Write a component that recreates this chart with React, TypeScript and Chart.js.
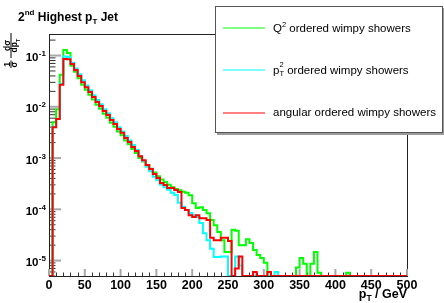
import React, { useEffect, useRef } from 'react';
import { Chart, registerables } from 'chart.js';

Chart.register(...registerables);

// ---- data (5 GeV bins from 0 to 500 GeV) ----
const BIN_WIDTH = 5;
const X_MIN = 0;
const X_MAX = 500;
const Y_MIN = 5e-6;
const Y_MAX = 0.263;

const xTickLabels = ['0', '50', '100', '150', '200', '250', '300', '350', '400', '450', '500'];
const yTickExponents = [-1, -2, -3, -4, -5];

const seriesNames = ['Q2 ordered wimpy showers', 'pT2 ordered wimpy showers', 'angular ordered wimpy showers'];

const q2Values = [
  0, 0.0050, 0.0090, 0.042, 0.128, 0.112, 0.063, 0.048, 0.036, 0.027,
  0.0215, 0.0172, 0.0138, 0.0110, 0.0092, 0.0073, 0.0061, 0.0049, 0.0041, 0.0033,
  0.0028, 0.0022, 0.00185, 0.00150, 0.00125, 0.00100, 0.00086, 0.00072, 0.00062, 0.00052,
  0.00044, 0.00038, 0.00034, 0.00030, 0.00027, 0.00025, 0.000235, 0.00022, 0.00021, 0.000188,
  0.000132, 0.000106, 0.00011, 0.000097, 0.000084, 0.000062, 0.000049, 0.000036, 0.000025, 0.0000147,
  0.0000147, 0.000040, 0.000038, 0.000020, 0.000020, 0.000026, 0.000022, 0.000016, 0.0000128, 0.0000112,
  0.0000091, 0, 0, 0, 0, 0, 0, 0, 0, 0.0000073,
  0.0000112, 0.0000087, 0, 0.0000087, 0.0000147, 0.0000058, 0, 0, 0, 0,
  0, 0, 0, 0.0000058, 0, 0, 0, 0, 0, 0,
  0, 0, 0, 0, 0, 0, 0, 0, 0, 0,
];

const pt2Values = [
  0, 0.0041, 0.0058, 0.028, 0.096, 0.094, 0.072, 0.056, 0.043, 0.033,
  0.026, 0.021, 0.0168, 0.0135, 0.0112, 0.0090, 0.0075, 0.0060, 0.0050, 0.0040,
  0.0033, 0.0027, 0.0022, 0.0018, 0.00145, 0.00108, 0.00088, 0.00068, 0.00055, 0.00043,
  0.00037, 0.00030, 0.00027, 0.00024, 0.00021, 0.00019, 0.000135, 0.000112, 0.000097, 0.000085,
  0.000077, 0.000071, 0.000054, 0.000034, 0.000025, 0.000017, 0.0000118, 0.0000118, 0.000012, 0.000012,
  0, 0, 0.000012, 0.000008, 0, 0, 0, 0, 0, 0,
  0, 0, 0, 0.000006, 0, 0, 0, 0, 0, 0,
  0, 0, 0, 0, 0, 0, 0, 0, 0, 0,
  0, 0, 0, 0, 0, 0, 0, 0, 0, 0,
  0, 0, 0, 0, 0, 0, 0, 0, 0, 0,
];

const angularValues = [
  0, 0.0040, 0.0058, 0.027, 0.086, 0.085, 0.068, 0.052, 0.040, 0.030,
  0.024, 0.0194, 0.0155, 0.0124, 0.0104, 0.0083, 0.0069, 0.0055, 0.0046, 0.0037,
  0.0031, 0.00245, 0.00205, 0.00164, 0.00137, 0.00109, 0.00091, 0.00073, 0.00061, 0.00049,
  0.00041, 0.000325, 0.000297, 0.00026, 0.00026, 0.000238, 0.000217, 0.000106, 0.000097, 0.000077,
  0.000071, 0.000077, 0.000067, 0.000067, 0.000062, 0.000028, 0.000025, 0.000025, 0.000028, 0.000028,
  0.000024, 0, 0.000007, 0.000012, 0, 0, 0, 0.000006, 0, 0,
  0, 0.000006, 0, 0, 0, 0, 0, 0, 0, 0,
  0, 0, 0, 0, 0, 0, 0, 0, 0, 0,
  0, 0, 0, 0, 0, 0, 0, 0, 0, 0,
  0, 0, 0, 0, 0, 0, 0, 0, 0, 0,
];

const seriesColors = ['#00ff00', '#00ffff', '#ff0000'];

// ---- helpers ----
const FONT = '"Liberation Sans", Arial, Helvetica, sans-serif';

function histPoints(vals: number[]) {
  const pts = vals.map((v, i) => ({ x: X_MIN + i * BIN_WIDTH, y: Math.max(v, Y_MIN) }));
  pts.push({ x: X_MAX, y: Math.max(vals[vals.length - 1], Y_MIN) });
  return pts;
}

type Run = { t: string; f: string; dy: number };
function drawRuns(ctx: CanvasRenderingContext2D, x: number, y: number, runs: Run[]) {
  let cx = x;
  for (const r of runs) {
    ctx.font = r.f;
    ctx.fillText(r.t, cx, y + r.dy);
    cx += ctx.measureText(r.t).width;
  }
  return cx;
}

const rootPlugin = {
  id: 'rootStyle',
  beforeDraw(chart: any) {
    const { ctx, width, height } = chart;
    ctx.save();
    ctx.fillStyle = '#ffffff';
    ctx.fillRect(0, 0, width, height);
    ctx.restore();
  },
  beforeDatasetsDraw(chart: any) {
    const { ctx, chartArea: a, scales } = chart;
    const xs = scales.x;
    const ys = scales.y;
    ctx.save();
    // frame
    ctx.strokeStyle = '#222';
    ctx.lineWidth = 1;
    ctx.strokeRect(a.left + 0.5, a.top + 0.5, a.right - a.left, a.bottom - a.top);

    // y ticks (log)
    for (let e = -6; e <= 0; e++) {
      for (let m = 1; m <= 9; m++) {
        const v = m * Math.pow(10, e);
        if (v < Y_MIN * 0.999 || v > Y_MAX) continue;
        const py = ys.getPixelForValue(v);
        ctx.beginPath();
        if (m === 1) {
          ctx.strokeStyle = '#a8a8a8';
          ctx.lineWidth = 2;
          ctx.moveTo(a.left + 1, py);
          ctx.lineTo(a.left + 12, py);
        } else {
          ctx.strokeStyle = '#333';
          ctx.lineWidth = 1;
          ctx.moveTo(a.left + 1, py);
          ctx.lineTo(a.left + 6.5, py);
        }
        ctx.stroke();
      }
    }
    // x ticks
    for (let g = X_MIN; g <= X_MAX; g += 10) {
      const px = xs.getPixelForValue(g);
      ctx.beginPath();
      if (g % 50 === 0) {
        ctx.strokeStyle = '#a8a8a8';
        ctx.lineWidth = 2;
        ctx.moveTo(px, a.bottom);
        ctx.lineTo(px, a.bottom - 7);
      } else {
        ctx.strokeStyle = '#333';
        ctx.lineWidth = 1;
        ctx.moveTo(Math.round(px) + 0.5, a.bottom);
        ctx.lineTo(Math.round(px) + 0.5, a.bottom - 3.5);
      }
      ctx.stroke();
    }
    ctx.restore();
  },
  afterDraw(chart: any) {
    const { ctx, chartArea: a, scales } = chart;
    const xs = scales.x;
    const ys = scales.y;
    ctx.save();
    ctx.fillStyle = '#000';
    ctx.textBaseline = 'alphabetic';

    // x tick labels
    ctx.font = `bold 12.5px ${FONT}`;
    ctx.textAlign = 'center';
    xTickLabels.forEach((lab) => {
      const px = xs.getPixelForValue(Number(lab));
      ctx.fillText(lab, px, 288.5);
    });

    // y tick labels 10^n
    yTickExponents.forEach((e) => {
      const py = ys.getPixelForValue(Math.pow(10, e));
      ctx.textAlign = 'right';
      ctx.font = `bold 11.5px ${FONT}`;
      ctx.fillText('10', 38.5, py + 5.5);
      ctx.textAlign = 'left';
      ctx.font = `bold 8px ${FONT}`;
      ctx.fillText(String(e).replace('-', '-'), 38.8, py + 0.5);
    });

    // x axis title (right aligned at frame right)
    ctx.textAlign = 'left';
    const bigB = `bold 12.5px ${FONT}`;
    const smB = `bold 8.5px ${FONT}`;
    const xRuns: Run[] = [
      { t: 'p', f: bigB, dy: 0 },
      { t: 'T', f: smB, dy: 3 },
      { t: ' / GeV', f: bigB, dy: 0 },
    ];
    let w = 0;
    xRuns.forEach((r) => { ctx.font = r.f; w += ctx.measureText(r.t).width; });
    drawRuns(ctx, a.right - w, 298, xRuns);

    // title
    const tB = `bold 12px ${FONT}`;
    const tS = `bold 8px ${FONT}`;
    drawRuns(ctx, 18, 20.5, [
      { t: '2', f: tB, dy: 0 },
      { t: 'nd', f: tS, dy: -6 },
      { t: ' Highest p', f: tB, dy: 0 },
      { t: 'T', f: tS, dy: 3.5 },
      { t: ' Jet', f: tB, dy: 0 },
    ]);

    // y axis title: (1/sigma) (d sigma / d pT), rotated
    ctx.save();
    ctx.translate(11, 68);
    ctx.rotate(-Math.PI / 2);
    const yf = `bold 8.5px ${FONT}`;
    const yfs = `bold 6px ${FONT}`;
    ctx.font = yf;
    ctx.textAlign = 'center';
    ctx.fillText('1', 3.5, -1.3);
    ctx.fillText('σ', 3.5, 6.2);
    ctx.fillRect(0, -0.5, 7.5, 1);
    ctx.fillRect(10, -0.5, 25, 1);
    ctx.fillText('dσ', 22.5, -1.3);
    ctx.textAlign = 'left';
    ctx.font = yf;
    const dW = ctx.measureText('dp').width;
    ctx.font = yfs;
    const tW = ctx.measureText('T').width;
    drawRuns(ctx, 22.5 - (dW + tW) / 2, 6.2, [
      { t: 'dp', f: yf, dy: 0 },
      { t: 'T', f: yfs, dy: 2.5 },
    ]);
    ctx.restore();

    // legend box with shadow
    const lx = 215.5, ly = 6.5, lw = 227, lh = 126;
    ctx.fillStyle = '#9a9a9a';
    ctx.fillRect(lx + 1.5, ly + 1.5, lw + 1, lh + 1);
    ctx.fillStyle = '#ffffff';
    ctx.fillRect(lx, ly, lw, lh);
    ctx.strokeStyle = '#555';
    ctx.lineWidth = 1;
    ctx.strokeRect(lx, ly, lw, lh);

    const rowY = [28, 70, 112.5];
    const lf = `11.5px ${FONT}`;
    const ls = `7.5px ${FONT}`;
    rowY.forEach((y, i) => {
      ctx.strokeStyle = seriesColors[i];
      ctx.lineWidth = 1;
      ctx.beginPath();
      ctx.moveTo(223, Math.round(y));
      ctx.lineTo(265, Math.round(y));
      ctx.stroke();
    });
    ctx.fillStyle = '#000';
    ctx.textAlign = 'left';
    // Q^2
    drawRuns(ctx, 273, rowY[0] + 3.8, [
      { t: 'Q', f: lf, dy: 0 },
      { t: '2', f: ls, dy: -5 },
      { t: ' ordered wimpy showers', f: lf, dy: 0 },
    ]);
    // p_T^2
    let px2 = drawRuns(ctx, 273, rowY[1] + 3.5, [{ t: 'p', f: lf, dy: 0 }]);
    ctx.font = ls;
    ctx.fillText('2', px2, rowY[1] - 3);
    ctx.fillText('T', px2, rowY[1] + 5.5);
    const supW = Math.max(ctx.measureText('2').width, ctx.measureText('T').width);
    drawRuns(ctx, px2 + supW, rowY[1] + 3.5, [{ t: ' ordered wimpy showers', f: lf, dy: 0 }]);
    // angular
    drawRuns(ctx, 273, rowY[2] + 3.5, [{ t: 'angular ordered wimpy showers', f: lf, dy: 0 }]);

    ctx.restore();
  },
};

export default function App() {
  const canvasRef = useRef<HTMLCanvasElement | null>(null);

  useEffect(() => {
    const canvas = canvasRef.current;
    if (!canvas) return;
    const valueSets = [q2Values, pt2Values, angularValues];
    const chart = new Chart(canvas, {
      type: 'line',
      data: {
        datasets: valueSets.map((vals, i) => ({
          label: seriesNames[i],
          data: histPoints(vals),
          borderColor: seriesColors[i],
          backgroundColor: seriesColors[i],
          borderWidth: 2,
          stepped: 'before' as const,
          fill: false,
          pointRadius: 0,
          order: 2 - i,
        })),
      },
      options: {
        animation: false,
        responsive: false,
        maintainAspectRatio: false,
        devicePixelRatio: 1,
        layout: { padding: { left: 49, right: 37, top: 34, bottom: 27 } },
        scales: {
          x: { type: 'linear', min: X_MIN, max: X_MAX, display: false },
          y: { type: 'logarithmic', min: Y_MIN, max: Y_MAX, display: false },
        },
        plugins: {
          legend: { display: false },
          tooltip: { enabled: false },
          title: { display: false },
        },
        elements: { line: { tension: 0 }, point: { radius: 0 } },
      },
      plugins: [rootPlugin],
    } as any);
    return () => chart.destroy();
  }, []);

  return (
    <div style={{ position: 'absolute', left: 0, top: 0, width: 444, height: 303, background: '#fff' }}>
      <canvas ref={canvasRef} width={444} height={303} style={{ width: 444, height: 303, display: 'block' }} />
    </div>
  );
}
